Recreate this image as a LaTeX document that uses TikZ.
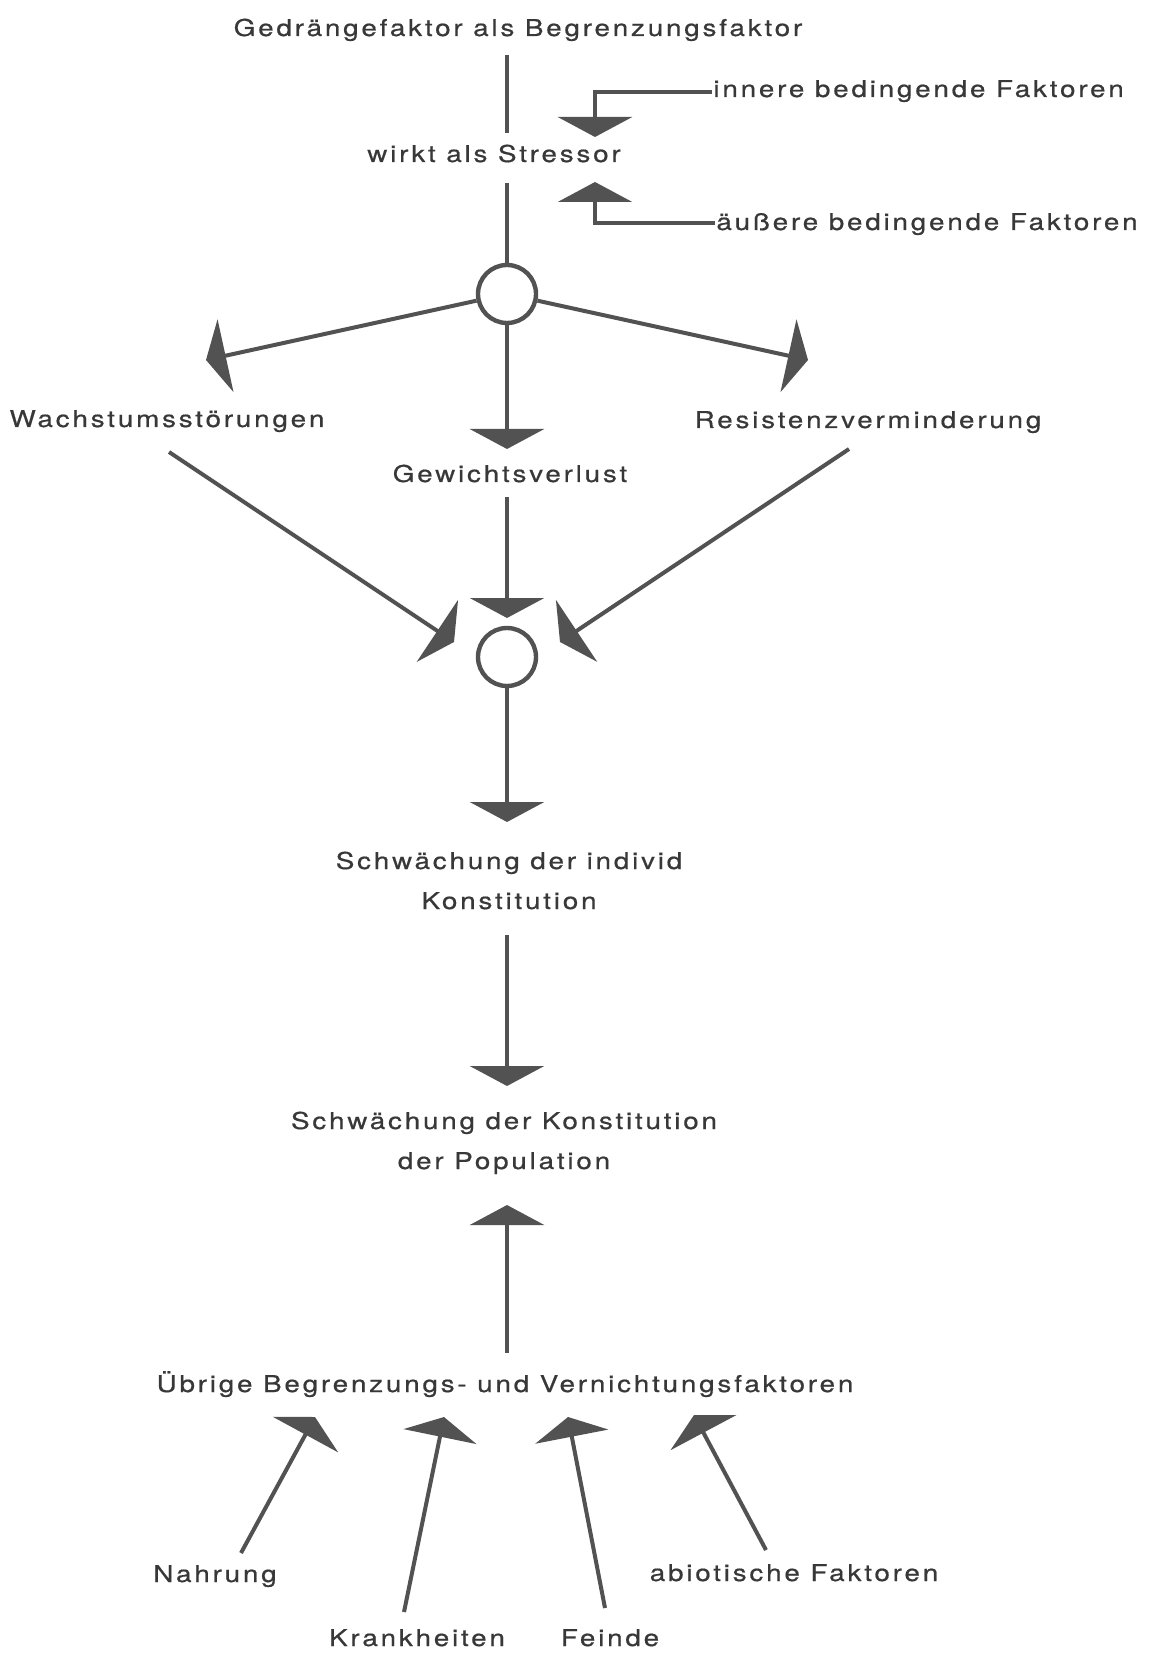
\documentclass[tikz,border=0pt]{standalone}
\usepackage{fontspec}
\setmainfont[LetterSpace=12, FakeStretch=1.2, FakeBold=0.6]{TeX Gyre Heros}
\usetikzlibrary{arrows.meta}
\definecolor{inkline}{gray}{0.32}
\definecolor{inktext}{gray}{0.22}

\begin{document}
\begin{tikzpicture}[x=0.5pt, y=-0.5pt,
    lbl/.style={text=inktext, inner sep=0pt, anchor=base, font=\fontsize{11.6}{20}\selectfont},
    line/.style={draw=inkline, line width=2pt},
    arr/.style={line, -{Triangle[width=37pt, length=10pt]}},
    knot/.style={circle, draw=inkline, line width=2.2pt, minimum size=29pt, inner sep=0pt}]
    \useasboundingbox (0,0) rectangle (1155,1657);

    % Stressor
    \node[lbl] (gedr) at (518,36) {Gedrängefaktor als Begrenzungsfaktor};
    \node[lbl] (stress) at (494,162) {wirkt als Stressor};
    \node[lbl, anchor=base west] (inner) at (713,97) {innere bedingende Faktoren};
    \node[lbl, anchor=base west] (outer) at (716,230) {äußere bedingende Faktoren};

    \coordinate (g1) at (507,55);
    \coordinate (g2) at (507,133);
    \coordinate (s1) at (507,183);
    \coordinate (innerA) at (712,92);
    \coordinate (innerB) at (595,137);
    \coordinate (outerA) at (715,223);
    \coordinate (outerB) at (595,182);

    \draw[line] (g1) -- (g2);
    \draw[arr] (innerA) -| (innerB);
    \draw[arr] (outerA) -| (outerB);

    % first knot
    \node[knot] (k1) at (507,294) {};
    \draw[line] (s1) -- (k1);

    \coordinate (wachsT) at (206,360);
    \coordinate (resistT) at (808,360);
    \coordinate (gewT) at (507,449);
    \foreach \t in {wachsT, resistT, gewT}
        \draw[arr] (k1) -- (\t);

    \node[lbl] (wachs) at (167,427) {Wachstumsstörungen};
    \node[lbl] (resist) at (868,428) {Resistenzverminderung};
    \node[lbl] (gew) at (510,482) {Gewichtsverlust};

    % second knot
    \node[knot] (k2) at (507,657) {};
    \coordinate (wachsS) at (169,452);
    \coordinate (wachsE) at (454,642);
    \coordinate (resistS) at (849,449);
    \coordinate (resistE) at (560,642);
    \coordinate (gewS) at (507,497);
    \coordinate (gewE) at (507,618);
    \foreach \s/\e in {wachsS/wachsE, resistS/resistE, gewS/gewE}
        \draw[arr] (\s) -- (\e);

    \coordinate (k2T) at (507,822);
    \draw[arr] (k2) -- (k2T);

    % Konstitution (base = last line)
    \node[lbl, align=center] (indiv) at (509,909) {Schwächung der individ\\Konstitution};
    \coordinate (indivS) at (507,935);
    \coordinate (indivT) at (507,1086);
    \draw[arr] (indivS) -- (indivT);

    \node[lbl, align=center] (popul) at (504,1169) {Schwächung der Konstitution\\der Population};
    \coordinate (uebrigS) at (507,1353);
    \coordinate (uebrigT) at (507,1205);
    \draw[arr] (uebrigS) -- (uebrigT);

    % other factors
    \node[lbl] (uebrig) at (505,1392) {Übrige Begrenzungs- und Vernichtungsfaktoren};
    \node[lbl] (nahr) at (215,1582) {Nahrung};
    \node[lbl] (krank) at (417,1646) {Krankheiten};
    \node[lbl] (feind) at (610,1646) {Feinde};
    \node[lbl] (abiot) at (794,1581) {abiotische Faktoren};

    \coordinate (nahrS) at (241,1553);
    \coordinate (nahrT) at (315,1417);
    \coordinate (krankS) at (404,1612);
    \coordinate (krankT) at (444,1417);
    \coordinate (feindS) at (605,1608);
    \coordinate (feindT) at (568,1417);
    \coordinate (abiotS) at (766,1550);
    \coordinate (abiotT) at (694,1415);
    \foreach \s/\e in {nahrS/nahrT, krankS/krankT, feindS/feindT, abiotS/abiotT}
        \draw[arr] (\s) -- (\e);
\end{tikzpicture}
\end{document}
